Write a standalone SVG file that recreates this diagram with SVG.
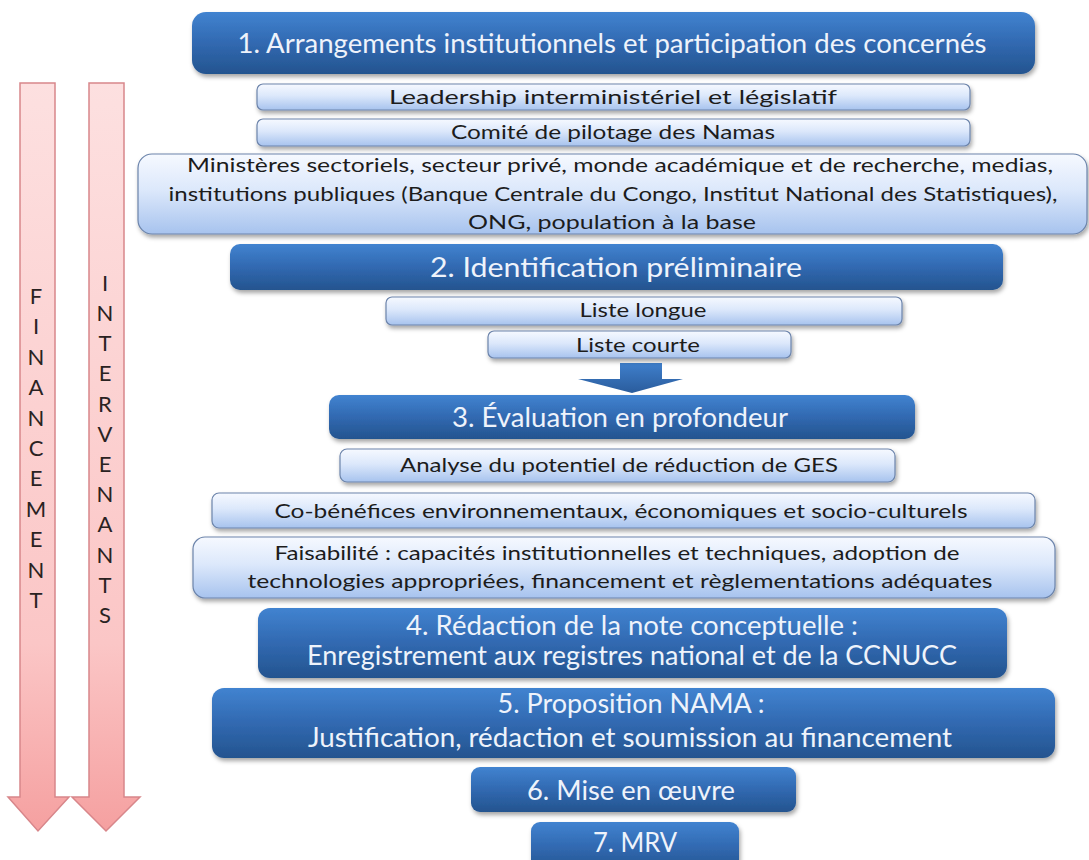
<svg xmlns="http://www.w3.org/2000/svg" width="1089" height="860" viewBox="0 0 1089 860">
<defs>
  <linearGradient id="gDark" x1="0" y1="0" x2="0" y2="1">
    <stop offset="0" stop-color="#4183d0"/>
    <stop offset="0.5" stop-color="#3169b1"/>
    <stop offset="1" stop-color="#24548f"/>
  </linearGradient>
  <linearGradient id="gLight" x1="0" y1="0" x2="0" y2="1">
    <stop offset="0" stop-color="#f6f9ff"/>
    <stop offset="0.45" stop-color="#dce8fb"/>
    <stop offset="1" stop-color="#a7c3ee"/>
  </linearGradient>
  <linearGradient id="gPink" x1="0" y1="0" x2="0" y2="1">
    <stop offset="0" stop-color="#fde0e0"/>
    <stop offset="0.75" stop-color="#fbc6c6"/>
    <stop offset="1" stop-color="#f5a0a0"/>
  </linearGradient>
  <linearGradient id="gArrow" x1="0" y1="0" x2="0" y2="1">
    <stop offset="0" stop-color="#3f7fcc"/>
    <stop offset="1" stop-color="#2a5c9c"/>
  </linearGradient>
  <filter id="sh" x="-5%" y="-20%" width="110%" height="150%">
    <feDropShadow dx="1.5" dy="3" stdDeviation="2" flood-color="#000" flood-opacity="0.35"/>
  </filter>
  <style>
    .dark{fill:url(#gDark);filter:url(#sh)}
    .light{fill:url(#gLight);stroke:#6c84ab;stroke-width:1.2;filter:url(#sh)}
    .pink{fill:url(#gPink);stroke:#d8868a;stroke-width:1.5}
    .td{font-family:Lato,"Open Sans",sans-serif;font-size:26px;fill:#eef3fb;text-anchor:middle}
    .tl{font-family:Lato,"Open Sans",sans-serif;font-size:20px;fill:#1c1c1c;text-anchor:middle}
    .tv{font-family:Lato,"Open Sans",sans-serif;font-size:22px;fill:#2a2222;text-anchor:middle}
  </style>
</defs>

<g id="side-arrows">
  <g id="arrow-financement">
    <path class="pink" d="M20,83 H55 V797 H69 L38,831 L8,797 H20 Z"/>
    <text class="tv" x="36" y="304">F</text>
    <text class="tv" x="36" y="334">I</text>
    <text class="tv" x="36" y="365">N</text>
    <text class="tv" x="36" y="395">A</text>
    <text class="tv" x="36" y="426">N</text>
    <text class="tv" x="36" y="456">C</text>
    <text class="tv" x="36" y="486">E</text>
    <text class="tv" x="36" y="517">M</text>
    <text class="tv" x="36" y="547">E</text>
    <text class="tv" x="36" y="578">N</text>
    <text class="tv" x="36" y="608">T</text>
  </g>
  <g id="arrow-intervenants">
    <path class="pink" d="M89,83 H124 V797 H140 L106,831 L72,797 H89 Z"/>
    <text class="tv" x="105" y="291">I</text>
    <text class="tv" x="105" y="321">N</text>
    <text class="tv" x="105" y="351">T</text>
    <text class="tv" x="105" y="381">E</text>
    <text class="tv" x="105" y="412">R</text>
    <text class="tv" x="105" y="442">V</text>
    <text class="tv" x="105" y="472">E</text>
    <text class="tv" x="105" y="502">N</text>
    <text class="tv" x="105" y="532">A</text>
    <text class="tv" x="105" y="563">N</text>
    <text class="tv" x="105" y="593">T</text>
    <text class="tv" x="105" y="623">S</text>
  </g>
</g>

<g id="connectors">
  <path d="M620,363 H662 V379 H683 L632,393 L578,379 H620 Z" fill="url(#gArrow)"/>
</g>

<g id="n1">
  <rect class="dark" x="192" y="12" width="843" height="62" rx="14"/>
  <text class="td" x="612" y="53" font-size="27" textLength="749" lengthAdjust="spacingAndGlyphs">1. Arrangements institutionnels et participation des concernés</text>
</g>
<g id="n1a">
  <rect class="light" x="257" y="84" width="713" height="26" rx="6"/>
  <text class="tl" x="613" y="104" textLength="448" lengthAdjust="spacingAndGlyphs">Leadership interministériel et législatif</text>
</g>
<g id="n1b">
  <rect class="light" x="257" y="119" width="713" height="27" rx="6"/>
  <text class="tl" x="613" y="139" textLength="324" lengthAdjust="spacingAndGlyphs">Comité de pilotage des Namas</text>
</g>
<g id="n1c">
  <rect class="light" x="138" y="154" width="949" height="80" rx="14"/>
  <text class="tl" x="620" y="172" font-size="21" textLength="866" lengthAdjust="spacingAndGlyphs">Ministères sectoriels, secteur privé, monde académique et de recherche, medias,</text>
  <text class="tl" x="613" y="201" font-size="21" textLength="889" lengthAdjust="spacingAndGlyphs">institutions publiques  (Banque Centrale du Congo, Institut National des Statistiques),</text>
  <text class="tl" x="612" y="229" font-size="21" textLength="288" lengthAdjust="spacingAndGlyphs">ONG, population à la base</text>
</g>
<g id="n2">
  <rect class="dark" x="230" y="244" width="773" height="46" rx="10"/>
  <text class="td" x="616" y="277" textLength="372" lengthAdjust="spacingAndGlyphs">2. Identification préliminaire</text>
</g>
<g id="n2a">
  <rect class="light" x="386" y="297" width="516" height="28" rx="6"/>
  <text class="tl" x="643" y="317" textLength="127" lengthAdjust="spacingAndGlyphs">Liste longue</text>
</g>
<g id="n2b">
  <rect class="light" x="488" y="331" width="303" height="27" rx="6"/>
  <text class="tl" x="638" y="352" textLength="124" lengthAdjust="spacingAndGlyphs">Liste courte</text>
</g>
<g id="n3">
  <rect class="dark" x="329" y="395" width="586" height="44" rx="10"/>
  <text class="td" x="620" y="427" textLength="336" lengthAdjust="spacingAndGlyphs">3. Évaluation en profondeur</text>
</g>
<g id="n3a">
  <rect class="light" x="340" y="449" width="555" height="33" rx="7"/>
  <text class="tl" x="619" y="472" textLength="438" lengthAdjust="spacingAndGlyphs">Analyse du potentiel de réduction de GES</text>
</g>
<g id="n3b">
  <rect class="light" x="212" y="493" width="823" height="35" rx="7"/>
  <text class="tl" x="621" y="518" textLength="693" lengthAdjust="spacingAndGlyphs">Co-bénéfices environnementaux, économiques et socio-culturels</text>
</g>
<g id="n3c">
  <rect class="light" x="193" y="537" width="862" height="61" rx="12"/>
  <text class="tl" x="617" y="560" textLength="685" lengthAdjust="spacingAndGlyphs">Faisabilité : capacités institutionnelles et techniques, adoption de</text>
  <text class="tl" x="620" y="588" textLength="745" lengthAdjust="spacingAndGlyphs">technologies appropriées, financement et règlementations adéquates</text>
</g>
<g id="n4">
  <rect class="dark" x="258" y="608" width="749" height="70" rx="12"/>
  <text class="td" x="632" y="635" font-size="25" textLength="452" lengthAdjust="spacingAndGlyphs">4. Rédaction de la note conceptuelle :</text>
  <text class="td" x="632" y="665" font-size="25" textLength="650" lengthAdjust="spacingAndGlyphs">Enregistrement aux registres national et de la CCNUCC</text>
</g>
<g id="n5">
  <rect class="dark" x="212" y="688" width="843" height="70" rx="12"/>
  <text class="td" x="631" y="713" font-size="25" textLength="267" lengthAdjust="spacingAndGlyphs">5. Proposition NAMA :</text>
  <text class="td" x="630" y="747" font-size="25" textLength="644" lengthAdjust="spacingAndGlyphs">Justification, rédaction et soumission au financement</text>
</g>
<g id="n6">
  <rect class="dark" x="471" y="767" width="325" height="45" rx="9"/>
  <text class="td" x="631" y="800" font-size="25" textLength="208" lengthAdjust="spacingAndGlyphs">6. Mise en œuvre</text>
</g>
<g id="n7">
  <rect class="dark" x="531" y="822" width="208" height="50" rx="9"/>
  <text class="td" x="635" y="852" font-size="25" textLength="84" lengthAdjust="spacingAndGlyphs">7. MRV</text>
</g>
</svg>
